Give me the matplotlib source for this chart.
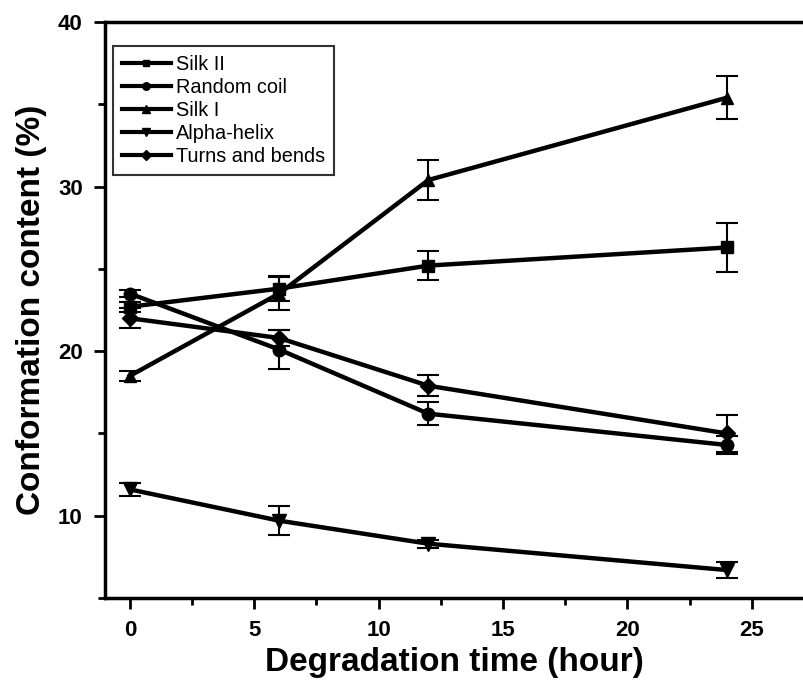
import matplotlib
matplotlib.use("Agg")
from matplotlib import pyplot as plt
from matplotlib.lines import Line2D
from matplotlib.ticker import MultipleLocator

plt.rcParams["font.family"] = ["Liberation Sans", "DejaVu Sans"]

hours = [0, 6, 12, 24]

silk2 = [22.7, 23.8, 25.2, 26.3]
silk2_err = [0.3, 0.75, 0.9, 1.5]
coil = [23.5, 20.1, 16.2, 14.3]
coil_err = [0.2, 1.2, 0.7, 0.55]
silk1 = [18.5, 23.5, 30.4, 35.4]
silk1_err = [0.3, 1.0, 1.2, 1.3]
helix = [11.6, 9.7, 8.3, 6.7]
helix_err = [0.4, 0.9, 0.25, 0.5]
turns = [22.0, 20.8, 17.9, 15.0]
turns_err = [0.6, 0.5, 0.65, 1.1]

names = ["Silk II", "Random coil", "Silk I", "Alpha-helix", "Turns and bends"]
series = [silk2, coil, silk1, helix, turns]
errors = [silk2_err, coil_err, silk1_err, helix_err, turns_err]
markers = ["s", "o", "^", "v", "D"]
sizes = [8, 9, 9, 10, 8]

fig = plt.figure(figsize=(8.04, 6.84), dpi=100)
ax = fig.add_axes([0.1306, 0.1257, 0.8694, 0.8421])

handles = []
for name, vals, err, m, ms in zip(names, series, errors, markers, sizes):
    ax.errorbar(hours, vals, yerr=err, color="black", marker=m, markersize=ms,
                linewidth=3.2, elinewidth=1.5, capsize=8, capthick=1.5)
    handles.append(Line2D([], [], color="black", marker=m, markersize=ms * 0.6,
                          linewidth=3, label=name))

ax.set_xlim(-1, 27.1)
ax.set_ylim(5, 40)
ax.xaxis.set_major_locator(MultipleLocator(5))
ax.xaxis.set_minor_locator(MultipleLocator(2.5))
ax.yaxis.set_major_locator(MultipleLocator(10))
ax.yaxis.set_minor_locator(MultipleLocator(5))

for side in ["left", "bottom", "top"]:
    ax.spines[side].set_linewidth(2.5)
ax.spines["right"].set_visible(False)

ax.tick_params(which="major", direction="out", length=8, width=2,
               labelsize=16, top=False, right=False, pad=8)
ax.tick_params(which="minor", direction="out", length=5, width=2,
               top=False, right=False)
for lbl in ax.get_xticklabels() + ax.get_yticklabels():
    lbl.set_fontweight("bold")

ax.set_xlabel("Degradation time (hour)", fontsize=24, fontweight="bold", labelpad=4)
ax.set_ylabel("Conformation content (%)", fontsize=24, fontweight="bold", labelpad=8)

leg = ax.legend(handles=handles, loc="upper left", bbox_to_anchor=(0.0, 0.972),
                fontsize=14.3, frameon=True, fancybox=False, edgecolor="black",
                handlelength=2.45, handletextpad=0.25, labelspacing=0.2,
                borderpad=0.45, borderaxespad=0.4)
leg.get_frame().set_linewidth(1.5)

fig.savefig("out.png", dpi=100)
